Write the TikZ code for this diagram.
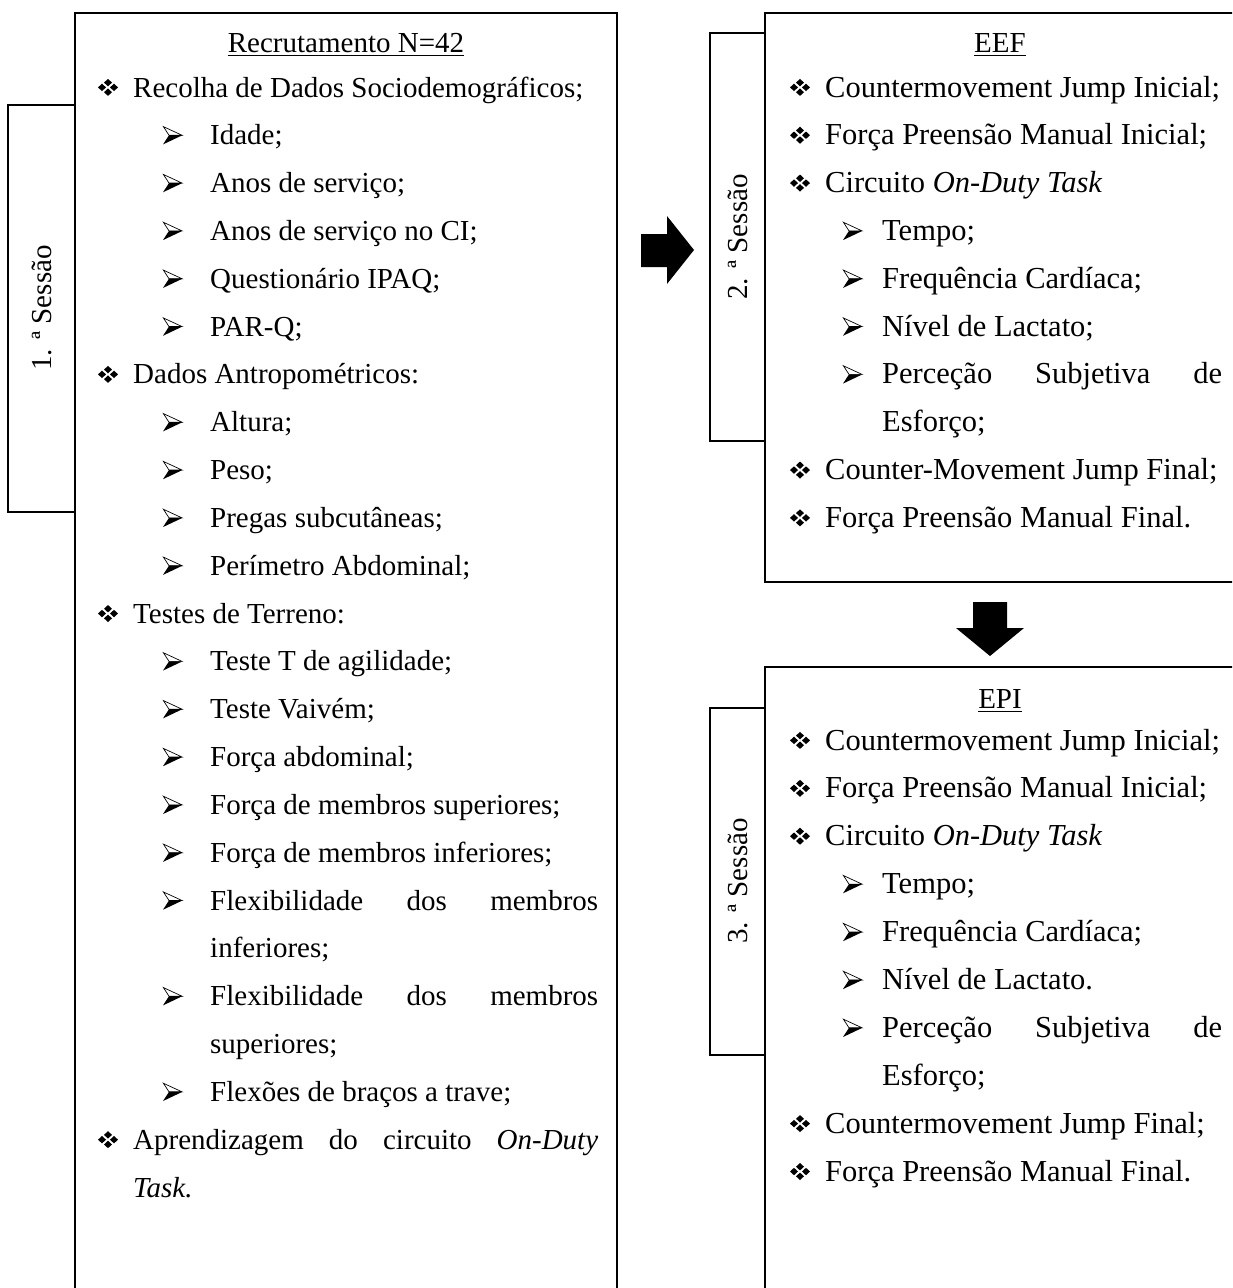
\documentclass[tikz,border=0pt]{standalone}
\usepackage{fontspec}
\setmainfont{Liberation Serif}
\tikzset{
  boxline/.style={line width=1.6pt, line join=miter},
  txt/.style={anchor=base west, inner sep=0pt, font=\fontsize{29}{34}\selectfont},
  txtr/.style={anchor=base west, inner sep=0pt, font=\fontsize{30.5}{36}\selectfont},
  ttl/.style={anchor=base, inner sep=0pt, font=\fontsize{29}{34}\selectfont},
  tablabel/.style={rotate=90, inner sep=0pt, font=\fontsize{29}{34}\selectfont},
  blockarrow/.style={fill=black, draw=none},
  uline/.style={line width=1.5pt},
  pics/diam/.style={code={
    \foreach \dx/\dy in {-6/0,6/0,0/-4.8,0/4.8}
      \fill (\dx,\dy) +(-4,0) -- +(0,-3.7) -- +(4,0) -- +(0,3.7) -- cycle;
  }},
  pics/harrow/.style={code={
    \filldraw[fill=white, draw=black, line width=0.7pt, line join=miter] (0.4,-8.6) -- (19,0) -- (6,0) -- cycle;
    \fill (0,9.2) -- (19.4,0) -- (6,0) -- cycle;
  }},
}
% name, bullet x-left, text x, baseline, text, style
\newcommand\drow[6]{%
  \pic (#1b) at ({#2+10},{#4-9.6}) {diam};
  \node[#6] (#1) at (#3,{#4}) {#5};}
\newcommand\arow[6]{%
  \pic (#1b) at (#2,{#4-9.6}) {harrow};
  \node[#6] (#1) at (#3,{#4}) {#5};}
% name, text x, baseline, text, style (continuation line)
\newcommand\crow[5]{\node[#5] (#1) at (#2,{#3}) {#4};}
\begin{document}
\begin{tikzpicture}[x=1pt,y=-1pt]
\fill[white] (0,0) rectangle (1232,1288);
\useasboundingbox (0,0) rectangle (1232,1288);
\begin{scope}
\clip (0,0) rectangle (1232,1288);
% boxes
\draw[boxline] (75,105) -- (8,105) -- (8,512) -- (75,512);
\draw[boxline] (75,1300) -- (75,13) -- (617,13) -- (617,1300);
\draw[boxline] (765,33) -- (710,33) -- (710,441) -- (765,441);
\draw[boxline] (1240,13) -- (765,13) -- (765,582) -- (1240,582);
\draw[boxline] (765,708) -- (710,708) -- (710,1055) -- (765,1055);
\draw[boxline] (1240,667) -- (765,667) -- (765,1300);
\end{scope}
% block arrows
\fill[blockarrow] (641,234) -- (667,234) -- (667,216) -- (694,250) -- (667,284) -- (667,267) -- (641,267) -- cycle;
\fill[blockarrow] (973,602) -- (1007,602) -- (1007,628) -- (1024,628) -- (990,656) -- (956,628) -- (973,628) -- cycle;
% tab labels
\node[tablabel] (s1) at (41.5,308) {1. ª Sessão};
\node[tablabel] (s2) at (737.5,237) {2. ª Sessão};
\node[tablabel] (s3) at (737.5,881) {3. ª Sessão};
% titles
\node[ttl] (t1) at (346,52) {Recrutamento N=42};
\draw[uline] ([yshift=-3.5pt]t1.base west) -- ([yshift=-3.5pt]t1.base east);
\node[ttl] (t2) at (1000,52) {EEF};
\draw[uline] ([yshift=-3.5pt]t2.base west) -- ([yshift=-3.5pt]t2.base east);
\node[ttl] (t3) at (1000,708) {EPI};
\draw[uline] ([yshift=-3.5pt]t3.base west) -- ([yshift=-3.5pt]t3.base east);
% main box
\drow{m0}{98}{133}{97+47.83*0}{Recolha de Dados Sociodemográficos;}{txt}
\arow{m1}{163}{210}{97+47.83*1}{Idade;}{txt}
\arow{m2}{163}{210}{97+47.83*2}{Anos de serviço;}{txt}
\arow{m3}{163}{210}{97+47.83*3}{Anos de serviço no CI;}{txt}
\arow{m4}{163}{210}{97+47.83*4}{Questionário IPAQ;}{txt}
\arow{m5}{163}{210}{97+47.83*5}{PAR-Q;}{txt}
\drow{m6}{98}{133}{97+47.83*6}{Dados Antropométricos:}{txt}
\arow{m7}{163}{210}{97+47.83*7}{Altura;}{txt}
\arow{m8}{163}{210}{97+47.83*8}{Peso;}{txt}
\arow{m9}{163}{210}{97+47.83*9}{Pregas subcutâneas;}{txt}
\arow{m10}{163}{210}{97+47.83*10}{Perímetro Abdominal;}{txt}
\drow{m11}{98}{133}{97+47.83*11}{Testes de Terreno:}{txt}
\arow{m12}{163}{210}{97+47.83*12}{Teste T de agilidade;}{txt}
\arow{m13}{163}{210}{97+47.83*13}{Teste Vaivém;}{txt}
\arow{m14}{163}{210}{97+47.83*14}{Força abdominal;}{txt}
\arow{m15}{163}{210}{97+47.83*15}{Força de membros superiores;}{txt}
\arow{m16}{163}{210}{97+47.83*16}{Força de membros inferiores;}{txt}
\arow{m17}{163}{210}{97+47.83*17}{\makebox[388pt][s]{Flexibilidade dos membros}}{txt}
\crow{m18}{210}{97+47.83*18}{inferiores;}{txt}
\arow{m19}{163}{210}{97+47.83*19}{\makebox[388pt][s]{Flexibilidade dos membros}}{txt}
\crow{m20}{210}{97+47.83*20}{superiores;}{txt}
\arow{m21}{163}{210}{97+47.83*21}{Flexões de braços a trave;}{txt}
\drow{m22}{98}{133}{97+47.83*22}{\makebox[465pt][s]{Aprendizagem do circuito \textit{On-Duty}}}{txt}
\crow{m23}{133}{97+47.83*23}{\textit{Task.}}{txt}
% EEF box
\drow{e0}{790}{825}{97+47.83*0}{Countermovement Jump Inicial;}{txtr}
\drow{e1}{790}{825}{97+47.83*1}{Força Preensão Manual Inicial;}{txtr}
\drow{e2}{790}{825}{97+47.83*2}{Circuito \textit{On-Duty Task}}{txtr}
\arow{e3}{843}{882}{97+47.83*3}{Tempo;}{txtr}
\arow{e4}{843}{882}{97+47.83*4}{Frequência Cardíaca;}{txtr}
\arow{e5}{843}{882}{97+47.83*5}{Nível de Lactato;}{txtr}
\arow{e6}{843}{882}{97+47.83*6}{\makebox[340pt][s]{Perceção Subjetiva de}}{txtr}
\crow{e7}{882}{97+47.83*7}{Esforço;}{txtr}
\drow{e8}{790}{825}{97+47.83*8}{Counter-Movement Jump Final;}{txtr}
\drow{e9}{790}{825}{97+47.83*9}{Força Preensão Manual Final.}{txtr}
% EPI box
\drow{p0}{790}{825}{750+47.9*0}{Countermovement Jump Inicial;}{txtr}
\drow{p1}{790}{825}{750+47.9*1}{Força Preensão Manual Inicial;}{txtr}
\drow{p2}{790}{825}{750+47.9*2}{Circuito \textit{On-Duty Task}}{txtr}
\arow{p3}{843}{882}{750+47.9*3}{Tempo;}{txtr}
\arow{p4}{843}{882}{750+47.9*4}{Frequência Cardíaca;}{txtr}
\arow{p5}{843}{882}{750+47.9*5}{Nível de Lactato.}{txtr}
\arow{p6}{843}{882}{750+47.9*6}{\makebox[340pt][s]{Perceção Subjetiva de}}{txtr}
\crow{p7}{882}{750+47.9*7}{Esforço;}{txtr}
\drow{p8}{790}{825}{750+47.9*8}{Countermovement Jump Final;}{txtr}
\drow{p9}{790}{825}{750+47.9*9}{Força Preensão Manual Final.}{txtr}
\end{tikzpicture}
\end{document}
